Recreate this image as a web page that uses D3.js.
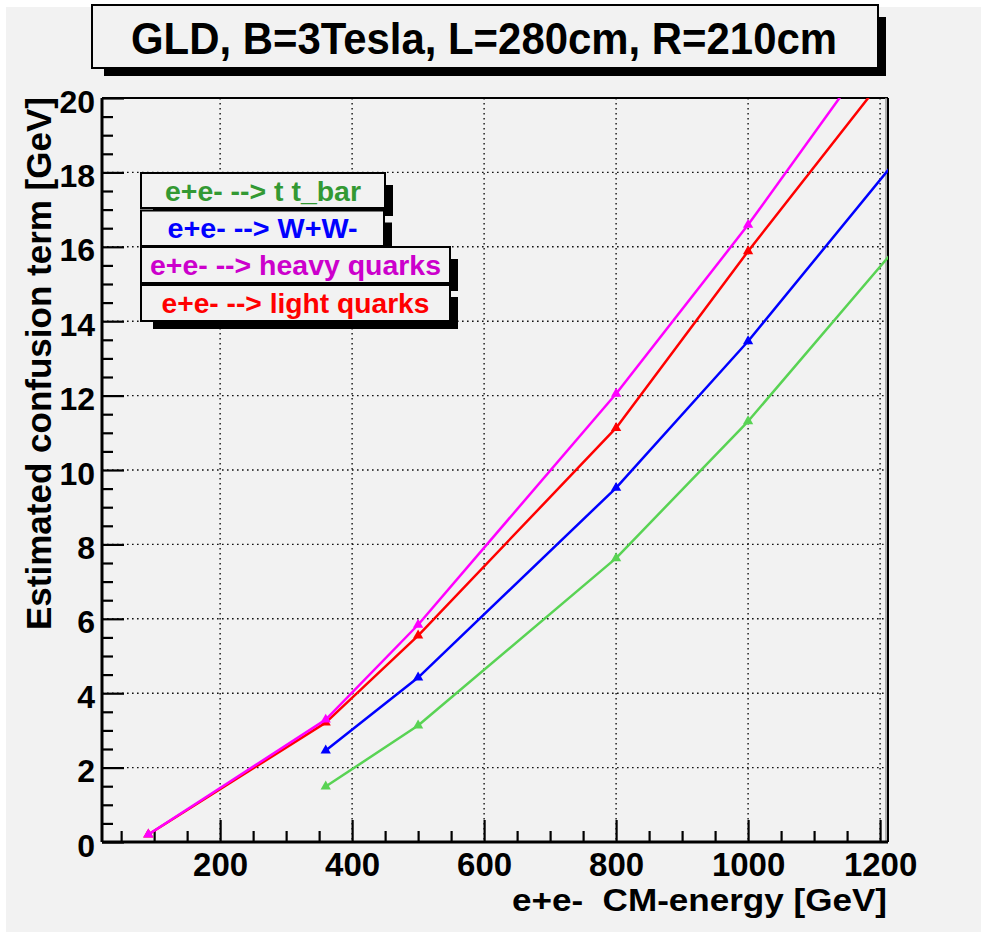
<!DOCTYPE html>
<html>
<head>
<meta charset="utf-8">
<script src="https://cdn.jsdelivr.net/npm/d3@7/dist/d3.min.js"></script>
<style>
  body { margin: 0; background: #ffffff; }
  svg { display: block; }
  text { font-family: "Liberation Sans", Arial, Helvetica, sans-serif; font-weight: bold; }
</style>
</head>
<body>
<svg id="chart" width="981" height="932"></svg>
<script>
// CM energies [GeV] of the simulated samples
const energiesQuarks = [91.2, 360, 500, 800, 1000, 1500];
const energiesWWtt   = [360, 500, 800, 1000, 1500];

// Estimated confusion term [GeV]
const lightQuarks = [0.20, 3.21, 5.55, 11.13, 15.88, 27.2];
const heavyQuarks = [0.20, 3.29, 5.84, 12.05, 16.59, 28.9];
const wwPairs     = [2.46, 4.42, 9.52, 13.46, 24.3];
const ttbarPairs  = [1.49, 3.13, 7.63, 11.31, 21.7];

const legendLabels = ["e+e- --> t t_bar", "e+e- --> W+W-", "e+e- --> heavy quarks", "e+e- --> light quarks"];
const legendColors = ["#339933", "#0000ff", "#cc00cc", "#ff0000"];

const xMajorTicks = [200, 400, 600, 800, 1000, 1200];
const yMajorTicks = [0, 2, 4, 6, 8, 10, 12, 14, 16, 18, 20];

const titleText = "GLD, B=3Tesla, L=280cm, R=210cm";
const xTitle = "e+e-  CM-energy [GeV]";
const yTitle = "Estimated confusion term [GeV]";

const series = [
  { x: energiesWWtt,   y: ttbarPairs,  color: "#59d354" },
  { x: energiesWWtt,   y: wwPairs,     color: "#0000ff" },
  { x: energiesQuarks, y: lightQuarks, color: "#ff0000" },
  { x: energiesQuarks, y: heavyQuarks, color: "#ff00ff" }
];

const svg = d3.select("#chart");
const frame = { left: 102, right: 888, top: 98, bottom: 842 };

const x = d3.scaleLinear().domain([21, 1212]).range([frame.left, frame.right]);
const y = d3.scaleLinear().domain([0, 20]).range([frame.bottom, frame.top]);

// pad background
svg.append("rect").attr("x", 6).attr("y", 7).attr("width", 975).attr("height", 925).attr("fill", "#f2f2f2");

// grid
const grid = svg.append("g").attr("stroke", "#111").attr("stroke-width", 1.4).attr("stroke-dasharray", "1.6,3.4");
grid.selectAll("line.v").data(xMajorTicks).join("line")
  .attr("x1", d => x(d)).attr("x2", d => x(d))
  .attr("y1", frame.top).attr("y2", frame.bottom);
grid.selectAll("line.h").data(yMajorTicks.filter(d => d > 0 && d < 20)).join("line")
  .attr("x1", frame.left).attr("x2", frame.right)
  .attr("y1", d => y(d)).attr("y2", d => y(d));

// frame (top & right)
svg.append("line").attr("x1", frame.left).attr("x2", frame.right).attr("y1", frame.top).attr("y2", frame.top)
  .attr("stroke", "#000").attr("stroke-width", 2);
svg.append("line").attr("x1", frame.right - 2).attr("x2", frame.right - 2).attr("y1", frame.top).attr("y2", frame.bottom)
  .attr("stroke", "#999").attr("stroke-width", 1.5);
svg.append("line").attr("x1", frame.right).attr("x2", frame.right).attr("y1", frame.top).attr("y2", frame.bottom)
  .attr("stroke", "#000").attr("stroke-width", 2);

// minor ticks
const xMinor = d3.range(50, 1201, 50).filter(d => d % 200 !== 0);
const yMinor = d3.range(0.5, 20, 0.5).filter(d => d % 2 !== 0);
const xMinorAxis = d3.axisBottom(x).tickValues(xMinor).tickSize(-11).tickSizeOuter(0).tickFormat("");
const yMinorAxis = d3.axisLeft(y).tickValues(yMinor).tickSize(-11).tickSizeOuter(0).tickFormat("");
svg.append("g").attr("transform", `translate(0,${frame.bottom})`).call(xMinorAxis)
  .call(g => g.select(".domain").remove())
  .selectAll("line").attr("stroke", "#000").attr("stroke-width", 2.2);
svg.append("g").attr("transform", `translate(${frame.left},0)`).call(yMinorAxis)
  .call(g => g.select(".domain").remove())
  .selectAll("line").attr("stroke", "#000").attr("stroke-width", 2.2);

// major axes
const xAxis = d3.axisBottom(x).tickValues(xMajorTicks).tickFormat(d3.format("d"))
  .tickSize(-22).tickSizeOuter(0).tickPadding(11);
const yAxis = d3.axisLeft(y).tickValues(yMajorTicks).tickFormat(d3.format("d"))
  .tickSize(-22).tickSizeOuter(0).tickPadding(7);
const gx = svg.append("g").attr("transform", `translate(0,${frame.bottom})`).call(xAxis);
const gy = svg.append("g").attr("transform", `translate(${frame.left},0)`).call(yAxis);
[gx, gy].forEach(g => {
  g.select(".domain").attr("stroke", "#000").attr("stroke-width", 3);
  g.selectAll(".tick line").attr("stroke", "#000").attr("stroke-width", 2.2);
  g.selectAll(".tick text").attr("fill", "#000")
    .style("font-family", "'Liberation Sans', Arial, sans-serif").style("font-weight", "bold");
});
gx.selectAll(".tick text").style("font-size", "33px");
gy.selectAll(".tick text").style("font-size", "32px").attr("dy", "0.44em");
gx.select(".domain").attr("d", `M${frame.left},0H${frame.right}`);
gy.select(".domain").attr("d", `M0,${frame.bottom}V${frame.top}`);

// graphs: polylines with triangle markers, clipped to the frame
svg.append("clipPath").attr("id", "plotClip").append("rect")
  .attr("x", frame.left).attr("y", frame.top)
  .attr("width", frame.right - frame.left).attr("height", frame.bottom - frame.top);
const plot = svg.append("g").attr("clip-path", "url(#plotClip)");
const line = d3.line().x(d => x(d[0])).y(d => y(d[1]));
const tri = d3.symbol().type(d3.symbolTriangle).size(46);

series.forEach(s => {
  const pts = s.x.map((v, i) => [v, s.y[i]]);
  plot.append("path").datum(pts).attr("d", line)
    .attr("fill", "none").attr("stroke", s.color).attr("stroke-width", 2.5)
    .attr("stroke-linejoin", "round");
  plot.selectAll(null).data(pts).join("path")
    .attr("d", tri).attr("transform", d => `translate(${x(d[0])},${y(d[1])})`)
    .attr("fill", s.color);
});

// boxed text with a drop shadow
function pave(bx, by, bw, bh) {
  svg.append("rect").attr("x", bx + 12).attr("y", by + 12).attr("width", bw - 4).attr("height", bh - 4).attr("fill", "#000");
  svg.append("rect").attr("x", bx).attr("y", by).attr("width", bw).attr("height", bh)
    .attr("fill", "#f2f2f2").attr("stroke", "#000").attr("stroke-width", 2);
}

// title
pave(92, 5, 786, 63);
svg.append("text").attr("x", 484).attr("y", 54).attr("text-anchor", "middle")
  .attr("font-size", 45).attr("textLength", 706).attr("lengthAdjust", "spacingAndGlyphs")
  .attr("fill", "#000").text(titleText);

// legend
const legendBoxes = [
  { x: 141, y: 173, w: 244, h: 35, tw: 196 },
  { x: 141, y: 210.5, w: 243, h: 35.5, tw: 190 },
  { x: 141, y: 247, w: 309, h: 36, tw: 291 },
  { x: 141, y: 285, w: 309, h: 36, tw: 268 }
];
legendBoxes.forEach((b, i) => {
  pave(b.x, b.y, b.w, b.h);
  svg.append("text").attr("x", b.x + b.w / 2).attr("y", b.y + b.h / 2 + 10)
    .attr("text-anchor", "middle").attr("font-size", 28)
    .attr("textLength", b.tw).attr("lengthAdjust", "spacingAndGlyphs")
    .attr("fill", legendColors[i]).text(legendLabels[i]);
});

// axis titles
svg.append("text").attr("x", 512).attr("y", 911).attr("font-size", 32)
  .style("white-space", "pre")
  .attr("textLength", 375).attr("lengthAdjust", "spacingAndGlyphs")
  .attr("fill", "#000").text(xTitle);
svg.append("text").attr("transform", "translate(51,630) rotate(-90)").attr("font-size", 35)
  .attr("textLength", 533).attr("lengthAdjust", "spacingAndGlyphs")
  .attr("fill", "#000").text(yTitle);
</script>
</body>
</html>
